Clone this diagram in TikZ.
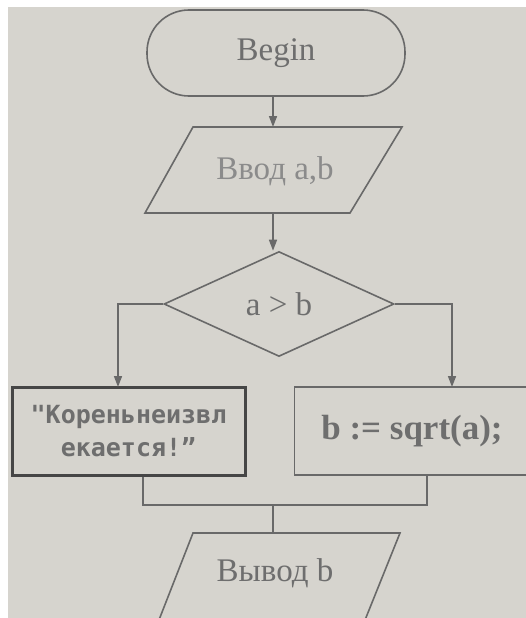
\documentclass[tikz,border=0pt]{standalone}
\usepackage{fontspec}
\setmainfont{Liberation Serif}
\newfontfamily\monof{DejaVu Sans Mono}
\usetikzlibrary{shapes.geometric,arrows.meta}
\definecolor{paper}{RGB}{214,212,206}
\definecolor{ink}{RGB}{105,105,105}
\definecolor{darkink}{RGB}{70,70,70}
\definecolor{txt}{RGB}{110,110,110}
\tikzset{
  line/.style={draw=ink, line width=1.6pt},
  arr/.style={line, -{Triangle[length=11pt,width=8pt]}},
  lbl/.style={text=txt, font=\fontsize{33}{38}\selectfont, inner sep=0pt},
}
\begin{document}
\begin{tikzpicture}[x=1pt,y=-1pt]
\useasboundingbox (0,0) rectangle (526,618);
\fill[white] (0,0) rectangle (526,618);
\fill[paper] (8,7) rectangle (526,618);
\clip (0,0) rectangle (526,618);
% Begin
\node[line, rounded corners=42pt, minimum width=258pt, minimum height=86pt, lbl] (begin) at (276,53) {Begin};
% Input
\draw[line] (193,127) -- (402,127) -- (350,213) -- (145,213) -- cycle;
\node[lbl, text=txt!80] (vvod) at (275,171) {Ввод a,b};
\coordinate (vt) at (273,127);
\coordinate (vb) at (273,213);
\draw[arr] (vt |- begin.south) -- (vt);
% Decision
\node[diamond, line, minimum width=230pt, minimum height=105pt, inner sep=0pt, lbl] (dec) at (279,304) {a > b};
\draw[arr] (vb) -- (vb |- dec.north);
% Boxes
\node[draw=darkink, line width=3pt, minimum width=233pt, minimum height=88pt, inner sep=0pt, align=center, text=txt, font=\monof\bfseries\fontsize{25}{33}\selectfont] (lbox) at (128.5,431) {"Кореньнеизвл\\екается!”};
\node[line, minimum width=235pt, minimum height=88pt, inner sep=0pt, text=txt, font=\bfseries\fontsize{35}{40}\selectfont] (rbox) at (412,431) {b := sqrt(a);};
\coordinate (la) at (118,387);
\coordinate (ra) at (452,387);
\draw[arr] (dec.west) -| (la);
\draw[arr] (dec.east) -| (ra);
% Merge
\coordinate (lm) at (143,505);
\coordinate (rm) at (427,505);
\coordinate (mm) at (273,505);
\coordinate (ot) at (273,533);
\draw[line] (lm |- lbox.south) -- (lm) -- (rm) -- (rm |- rbox.south);
\draw[line] (mm) -- (ot);
% Output
\draw[line] (193,533) -- (400,533) -- (363,625) -- (157,625) -- cycle;
\node[lbl] (vyvod) at (275,573) {Вывод b};
\end{tikzpicture}
\end{document}
